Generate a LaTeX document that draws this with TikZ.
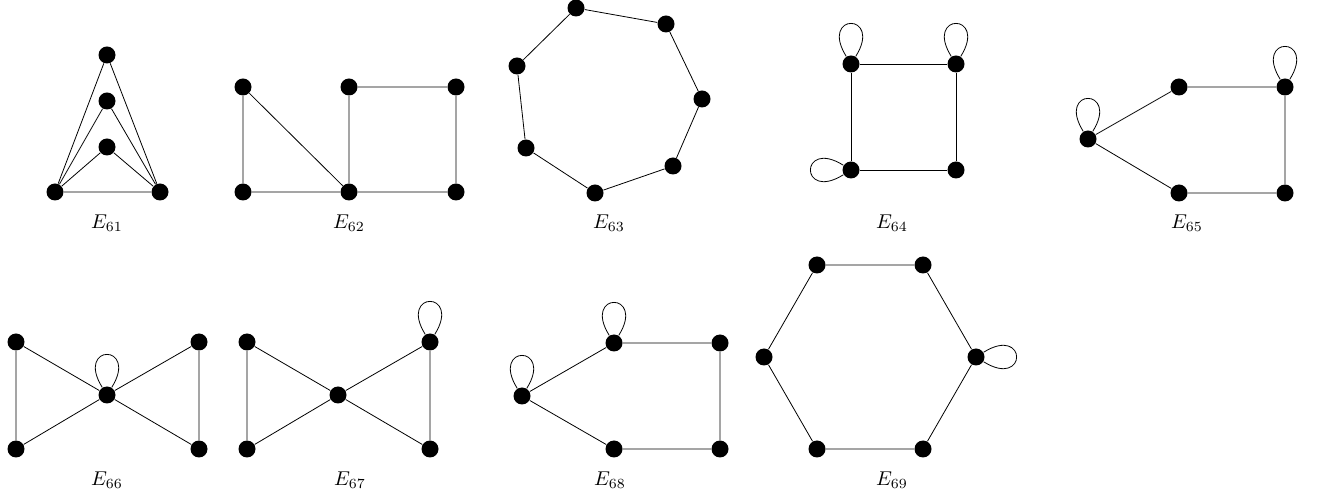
\documentclass[tikz,border=0pt]{standalone}
\begin{document}
\begin{tikzpicture}[x=0.5pt,y=-0.5pt,
  vtx/.style={circle,fill=black,inner sep=0pt,minimum size=8.5pt},
  lbl/.style={inner sep=0pt},
  loopup/.style={out=122,in=58,distance=26pt},
  loopleft/.style={out=212,in=148,distance=26pt},
  loopright/.style={out=32,in=-32,distance=26pt}]
\useasboundingbox (0,0) rectangle (1318,496);
% E61
\node[vtx] (a1) at (107,55) {};
\node[vtx] (a2) at (107,101) {};
\node[vtx] (a3) at (107,147) {};
\node[vtx] (a4) at (55,192) {};
\node[vtx] (a5) at (160,192) {};
\draw (a4)--(a5) (a4)--(a1) (a4)--(a2) (a4)--(a3) (a5)--(a1) (a5)--(a2) (a5)--(a3);
\node[lbl] (l61) at (107,223) {$E_{61}$};
% E62
\node[vtx] (p1) at (243,87) {};
\node[vtx] (p2) at (349,87) {};
\node[vtx] (p3) at (456,87) {};
\node[vtx] (p4) at (243,192) {};
\node[vtx] (p5) at (349,192) {};
\node[vtx] (p6) at (456,192) {};
\draw (p1)--(p4) (p1)--(p5) (p4)--(p5) (p5)--(p6) (p2)--(p5) (p2)--(p3) (p3)--(p6);
\node[lbl] (l62) at (349,223) {$E_{62}$};
% E63
\node[vtx] (h1) at (576,8) {};
\node[vtx] (h2) at (666,24) {};
\node[vtx] (h3) at (702,99) {};
\node[vtx] (h4) at (673,166) {};
\node[vtx] (h5) at (595,193) {};
\node[vtx] (h6) at (526,148) {};
\node[vtx] (h7) at (517,66) {};
\draw (h1)--(h2)--(h3)--(h4)--(h5)--(h6)--(h7)--(h1);
\node[lbl] (l63) at (609,223) {$E_{63}$};
% E64
\node[vtx] (b1) at (851,64) {};
\node[vtx] (b2) at (956,64) {};
\node[vtx] (b3) at (851,170) {};
\node[vtx] (b4) at (956,170) {};
\draw (b1)--(b2)--(b4)--(b3)--(b1);
\draw (b1) to[loopup] (b1);
\draw (b2) to[loopup] (b2);
\draw (b3) to[loopleft] (b3);
\node[lbl] (l64) at (892,223) {$E_{64}$};
% E65
\node[vtx] (c1) at (1088,139) {};
\node[vtx] (c2) at (1179,87) {};
\node[vtx] (c3) at (1285,87) {};
\node[vtx] (c4) at (1179,193) {};
\node[vtx] (c5) at (1285,193) {};
\draw (c1)--(c2)--(c3)--(c5)--(c4)--(c1);
\draw (c1) to[loopup] (c1);
\draw (c3) to[loopup] (c3);
\node[lbl] (l65) at (1187,223) {$E_{65}$};
% E66
\node[vtx] (d1) at (16,342) {};
\node[vtx] (d2) at (16,449) {};
\node[vtx] (d3) at (107,395) {};
\node[vtx] (d4) at (199,342) {};
\node[vtx] (d5) at (199,449) {};
\draw (d1)--(d2) (d1)--(d3) (d2)--(d3) (d3)--(d4) (d3)--(d5) (d4)--(d5);
\draw (d3) to[loopup] (d3);
\node[lbl] (l66) at (107,480) {$E_{66}$};
% E67
\node[vtx] (e1) at (247,342) {};
\node[vtx] (e2) at (247,449) {};
\node[vtx] (e3) at (338,395) {};
\node[vtx] (e4) at (430,342) {};
\node[vtx] (e5) at (430,449) {};
\draw (e1)--(e2) (e1)--(e3) (e2)--(e3) (e3)--(e4) (e3)--(e5) (e4)--(e5);
\draw (e4) to[loopup] (e4);
\node[lbl] (l67) at (350,480) {$E_{67}$};
% E68
\node[vtx] (f1) at (522,396) {};
\node[vtx] (f2) at (614,343) {};
\node[vtx] (f3) at (720,343) {};
\node[vtx] (f4) at (614,449) {};
\node[vtx] (f5) at (720,449) {};
\draw (f1)--(f2)--(f3)--(f5)--(f4)--(f1);
\draw (f1) to[loopup] (f1);
\draw (f2) to[loopup] (f2);
\node[lbl] (l68) at (610,480) {$E_{68}$};
% E69
\node[vtx] (g1) at (817,265) {};
\node[vtx] (g2) at (923,265) {};
\node[vtx] (g3) at (976,357) {};
\node[vtx] (g4) at (923,449) {};
\node[vtx] (g5) at (817,449) {};
\node[vtx] (g6) at (764,357) {};
\draw (g1)--(g2)--(g3)--(g4)--(g5)--(g6)--(g1);
\draw (g3) to[loopright] (g3);
\node[lbl] (l69) at (892,480) {$E_{69}$};
\end{tikzpicture}
\end{document}
